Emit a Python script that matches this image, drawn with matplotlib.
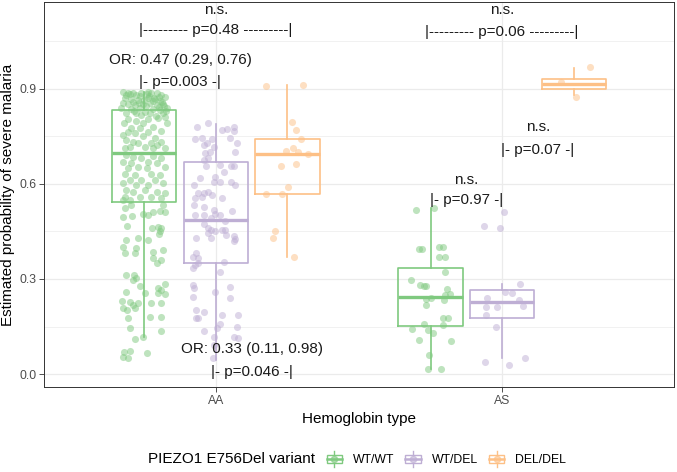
import numpy as np
import matplotlib
matplotlib.use("Agg")
import matplotlib.pyplot as plt
from matplotlib.patches import Rectangle
from matplotlib.lines import Line2D
from matplotlib.legend_handler import HandlerBase

plt.rcParams['font.family'] = ['Liberation Sans', 'DejaVu Sans']

hb_types = ['AA', 'AS']
variants = ['WT/WT', 'WT/DEL', 'DEL/DEL']
cores = ['#7FC97F', '#BEAED4', '#FDC086']  # brewer Accent

# box stats: (whisker low, q1, median, q3, whisker high)
box_aa = [(0.117, 0.544, 0.698, 0.834, 0.890),
          (0.045, 0.352, 0.486, 0.669, 0.790),
          (0.368, 0.568, 0.696, 0.743, 0.914)]
box_as = [(0.015, 0.153, 0.244, 0.334, 0.523),
          (0.051, 0.177, 0.226, 0.265, 0.285),
          (0.880, 0.899, 0.915, 0.932, 0.966)]

# jittered points (estimated probability) and their horizontal jitter
aa_wtwt = [0.886, 0.888, 0.881, 0.886, 0.884, 0.888, 0.886, 0.881, 0.876, 0.870,
           0.867, 0.865, 0.870, 0.867, 0.863, 0.855, 0.853, 0.849, 0.853, 0.855,
           0.849, 0.853, 0.839, 0.836, 0.839, 0.836, 0.834, 0.839, 0.823, 0.823,
           0.828, 0.825, 0.823,
           0.889, 0.884, 0.878, 0.872, 0.866, 0.860, 0.858, 0.846, 0.842, 0.832,
           0.829, 0.818, 0.815, 0.880, 0.874, 0.862, 0.857, 0.845, 0.890, 0.877,
           0.804, 0.800, 0.804, 0.807, 0.812, 0.791, 0.791, 0.791, 0.776, 0.776,
           0.781, 0.765, 0.765, 0.768, 0.755, 0.760, 0.750, 0.744, 0.739, 0.734,
           0.728, 0.728, 0.723, 0.734, 0.718, 0.718, 0.713, 0.713, 0.713,
           0.692, 0.686, 0.681, 0.688, 0.681, 0.670, 0.665, 0.670, 0.665, 0.649,
           0.653, 0.649, 0.653, 0.633, 0.628, 0.633, 0.628, 0.613, 0.613, 0.613,
           0.602, 0.597, 0.597, 0.602, 0.581, 0.576, 0.581, 0.576, 0.570, 0.560,
           0.558, 0.560, 0.555, 0.549, 0.549,
           0.523, 0.534, 0.497, 0.500, 0.504, 0.502, 0.512, 0.515, 0.534, 0.512,
           0.467, 0.460, 0.465, 0.452, 0.460, 0.441, 0.428, 0.423, 0.423, 0.402,
           0.399, 0.392, 0.381, 0.381, 0.386, 0.365, 0.349, 0.360, 0.313, 0.313,
           0.302, 0.297, 0.279, 0.283, 0.271, 0.265, 0.260, 0.255, 0.255, 0.252,
           0.231, 0.228, 0.218, 0.223, 0.223, 0.223, 0.207, 0.202, 0.207, 0.178,
           0.181, 0.181, 0.144, 0.136, 0.110, 0.118, 0.070, 0.073, 0.055, 0.049,
           0.067]
aa_wtwt_jit = [-0.057, -0.039, -0.027, -0.010, 0.008, 0.025, 0.043, 0.060, 0.072, -0.068,
               -0.047, -0.022, 0.013, 0.037, 0.054, -0.074, -0.057, -0.033, -0.004, 0.019,
               0.043, 0.066, -0.080, -0.045, -0.016, 0.031, 0.054, 0.078, -0.062, -0.027,
               0.002, 0.019, 0.066,
               -0.075, -0.048, 0.016, 0.033, -0.002, -0.040, 0.062, 0.005, 0.050, -0.035,
               0.075, -0.010, 0.040, -0.064, 0.050, 0.029, -0.020, 0.070, 0.012, -0.014,
               -0.057, -0.027, 0.013, 0.048, 0.072, -0.071, -0.004, 0.078, -0.045, -0.016,
               0.031, -0.057, 0.013, 0.060, -0.074, -0.033, -0.004, 0.037, -0.062, -0.039,
               -0.022, 0.025, 0.043, 0.060, -0.051, 0.002, -0.068, 0.031, 0.072,
               -0.062, -0.039, -0.010, 0.031, 0.060, -0.074, -0.045, 0.013, 0.043, -0.057,
               -0.022, 0.008, 0.072, -0.068, -0.033, 0.025, 0.054, -0.051, -0.010, 0.037,
               -0.074, -0.027, 0.013, 0.066, -0.062, -0.039, 0.002, 0.043, 0.072, -0.068,
               -0.016, 0.025, 0.060, -0.074, -0.051,
               -0.068, -0.045, -0.074, -0.041, -0.004, 0.013, 0.031, 0.054, 0.066, 0.072,
               -0.059, 0.027, 0.048, 0.054, 0.060, 0.052, -0.022, -0.062, 0.013, -0.074,
               -0.027, 0.066, -0.068, -0.033, 0.031, 0.031, 0.043, 0.060, -0.062, -0.036,
               -0.027, -0.039, -0.016, 0.072, 0.048, 0.060, -0.062, 0.002, 0.048, 0.074,
               -0.078, -0.051, -0.039, -0.022, 0.025, 0.060, -0.074, -0.059, -0.033, -0.057,
               0.019, 0.060, -0.051, 0.060, -0.033, -0.006, -0.071, -0.051, -0.074, -0.057,
               0.008]

aa_wtdel = [0.781, 0.791, 0.770, 0.774, 0.781, 0.767, 0.742, 0.746, 0.742, 0.744,
            0.723, 0.728, 0.718, 0.728, 0.697, 0.700, 0.702, 0.681, 0.676, 0.657,
            0.660, 0.657, 0.658, 0.637, 0.621, 0.618, 0.607, 0.607, 0.607, 0.597,
            0.597, 0.570, 0.570, 0.576, 0.565, 0.555, 0.560, 0.557, 0.534, 0.528,
            0.518, 0.504, 0.502, 0.502, 0.502, 0.515, 0.492, 0.483, 0.473, 0.460,
            0.455, 0.452, 0.455, 0.455, 0.444, 0.439, 0.437, 0.426, 0.420, 0.428,
            0.428, 0.381, 0.370, 0.365, 0.355, 0.344, 0.350, 0.336, 0.323, 0.281,
            0.273, 0.276, 0.260, 0.244, 0.241, 0.202, 0.176, 0.197, 0.186, 0.186,
            0.178, 0.157, 0.149, 0.146, 0.136, 0.118, 0.118, 0.113, 0.092, 0.051]
aa_wtdel_jit = [-0.066, -0.028, 0.023, 0.038, 0.062, 0.064, -0.072, -0.047, -0.014, 0.050,
                -0.043, -0.031, -0.008, 0.073, -0.037, -0.020, 0.067, -0.026, -0.043, -0.034,
                0.013, 0.053, 0.065, 0.027, -0.002, -0.055, -0.005, 0.015, 0.053, -0.075,
                0.067, -0.061, -0.043, -0.029, -0.014, -0.072, -0.049, 0.021, -0.075, -0.043,
                -0.008, -0.002, 0.015, -0.043, -0.072, 0.056, -0.016, 0.033, -0.040, -0.026,
                -0.016, -0.002, 0.021, 0.033, -0.029, 0.035, 0.062, 0.067, 0.065, -0.069,
                -0.016, -0.070, -0.078, -0.063, 0.027, -0.072, -0.061, -0.081, 0.015, -0.078,
                -0.075, 0.050, -0.002, -0.078, 0.050, -0.069, -0.070, -0.043, 0.021, 0.079,
                -0.061, 0.015, 0.073, 0.003, -0.043, 0.062, -0.005, 0.079, -0.008, -0.010]

aa_deldel = [0.908, 0.914, 0.795, 0.771, 0.743, 0.714, 0.703, 0.701, 0.696, 0.656,
             0.663, 0.590, 0.568, 0.568, 0.453, 0.429, 0.368]
aa_deldel_jit = [-0.076, 0.053, 0.016, 0.030, 0.049, 0.018, -0.005, 0.038, 0.071, -0.024,
                 0.029, 0.001, -0.075, -0.020, -0.044, -0.050, 0.024]

as_wtwt = [0.518, 0.523, 0.395, 0.395, 0.400, 0.400, 0.370, 0.370, 0.322, 0.296,
           0.281, 0.277, 0.277, 0.268, 0.253, 0.249, 0.237, 0.239, 0.234, 0.217,
           0.176, 0.178, 0.157, 0.155, 0.143, 0.138, 0.129, 0.106, 0.103, 0.061,
           0.015, 0.015]
as_wtwt_jit = [-0.050, 0.012, -0.041, -0.030, 0.028, 0.045, 0.028, 0.052, 0.050, -0.070,
               -0.037, -0.023, -0.016, 0.058, 0.068, 0.049, -0.015, 0.002, 0.047, -0.016,
               0.044, 0.060, -0.023, 0.042, -0.065, -0.008, 0.010, -0.040, 0.071, -0.005,
               -0.009, 0.038]

as_wtdel = [0.511, 0.467, 0.462, 0.285, 0.260, 0.256, 0.240, 0.234, 0.216, 0.211,
            0.211, 0.186, 0.148, 0.039, 0.029, 0.051]
as_wtdel_jit = [0.006, -0.064, -0.006, 0.061, 0.009, 0.036, -0.053, 0.058, 0.073, -0.058,
                -0.018, -0.055, -0.022, -0.060, 0.023, 0.079]

as_deldel = [0.969, 0.922, 0.875]
as_deldel_jit = [0.058, -0.046, 0.007]

# annotation labels: (x in category units, y, text)
anotacoes = [(1.0, 1.149, 'n.s.'),
             (1.0, 1.086, '|--------- p=0.48 ---------|'),
             (0.875, 0.991, 'OR: 0.47 (0.29, 0.76)'),
             (0.875, 0.922, '|- p=0.003 -|'),
             (1.125, 0.079, 'OR: 0.33 (0.11, 0.98)'),
             (1.125, 0.007, '|- p=0.046 -|'),
             (2.0, 1.149, 'n.s.'),
             (2.0, 1.080, '|--------- p=0.06 ---------|'),
             (2.125, 0.780, 'n.s.'),
             (2.125, 0.707, '|- p=0.07 -|'),
             (1.875, 0.613, 'n.s.'),
             (1.875, 0.550, '|- p=0.97 -|')]


class BoxKey(HandlerBase):
    # legend key that looks like ggplot boxplot + point key
    def create_artists(self, legend, orig_handle, xdescent, ydescent,
                       width, height, fontsize, trans):
        c = orig_handle.get_color()
        x0, y0 = -xdescent, -ydescent
        cx, cy = x0 + width / 2, y0 + height / 2
        box = Rectangle((x0 + width * 0.08, y0 + height * 0.25), width * 0.84, height * 0.5,
                        fill=False, ec=c, lw=1.0, transform=trans)
        w1 = Line2D([cx, cx], [y0, y0 + height * 0.25], color=c, lw=1.0, transform=trans)
        w2 = Line2D([cx, cx], [y0 + height * 0.75, y0 + height], color=c, lw=1.0, transform=trans)
        med = Line2D([x0 + width * 0.08, x0 + width * 0.92], [cy, cy], color=c, lw=1.8, transform=trans)
        pt = Line2D([cx], [cy], marker='o', ms=4.5, color=c, alpha=0.6, ls='none', transform=trans)
        return [box, w1, w2, med, pt]


fig = plt.figure(figsize=(6.77, 4.72), dpi=100)
ax = fig.add_axes([44 / 677, 85 / 472, 630 / 677, 385 / 472])

dodge = [-0.25, 0.0, 0.25]
larg = 0.225

# boxes first
for k, stats in enumerate([box_aa, box_as]):
    for g, s in enumerate(stats):
        st = dict(whislo=s[0], q1=s[1], med=s[2], q3=s[3], whishi=s[4], fliers=[])
        ax.bxp([st], positions=[k + 1 + dodge[g]], widths=larg, showfliers=False,
               showcaps=False,
               boxprops=dict(color=cores[g], lw=1.2),
               whiskerprops=dict(color=cores[g], lw=1.2),
               medianprops=dict(color=cores[g], lw=2.4, solid_capstyle='butt'),
               manage_ticks=False)

# jitter points on top
pontos = [[(aa_wtwt, aa_wtwt_jit), (aa_wtdel, aa_wtdel_jit), (aa_deldel, aa_deldel_jit)],
          [(as_wtwt, as_wtwt_jit), (as_wtdel, as_wtdel_jit), (as_deldel, as_deldel_jit)]]
for k, grupo in enumerate(pontos):
    for g, (vals, jit) in enumerate(grupo):
        xs = k + 1 + dodge[g] + np.array(jit)
        ax.scatter(xs, vals, s=26, color=cores[g], alpha=0.5, linewidths=0, zorder=3)

for x, y, txt in anotacoes:
    ax.text(x, y, txt, ha='center', va='center', fontsize=11, color='#1A1A1A', zorder=5)

ax.set_xlim(0.4, 2.6)
ax.set_ylim(-0.041, 1.1746)
ax.set_xticks([1, 2])
ax.set_xticklabels(hb_types)
ax.set_yticks([0.0, 0.3, 0.6, 0.9])
ax.set_yticklabels(['0.0', '0.3', '0.6', '0.9'])
ax.set_yticks([0.15, 0.45, 0.75, 1.05], minor=True)
ax.tick_params(axis='both', which='major', labelsize=8.8, labelcolor='#4D4D4D',
               color='#333333', length=3.5, width=0.6, pad=2)
ax.tick_params(axis='y', which='minor', length=0)

ax.grid(True, which='major', color='#EBEBEB', lw=0.9)
ax.grid(True, which='minor', axis='y', color='#EBEBEB', lw=0.5)
ax.set_axisbelow(True)
for sp in ax.spines.values():
    sp.set_color('#333333')
    sp.set_linewidth(0.7)

ax.set_xlabel('Hemoglobin type', fontsize=11)
ax.set_ylabel('Estimated probability of severe malaria', fontsize=11)
ax.xaxis.set_label_coords(0.5, -0.066)
ax.yaxis.set_label_coords(-0.046, 0.5)

# legend at the bottom, title on the left
fig.text(148 / 677, 1 - 459 / 472, 'PIEZO1 E756Del variant', fontsize=11, ha='left', va='center')
handles = [Line2D([], [], color=c) for c in cores]
fig.legend(handles, variants, handler_map={Line2D: BoxKey()}, ncol=3,
           loc='center left', bbox_to_anchor=(325 / 677, 1 - 459 / 472),
           frameon=False, fontsize=8.8, handlelength=1.55, handleheight=1.6,
           handletextpad=0.75, columnspacing=0.75, borderpad=0, borderaxespad=0)

fig.savefig('out.png', dpi=100)
